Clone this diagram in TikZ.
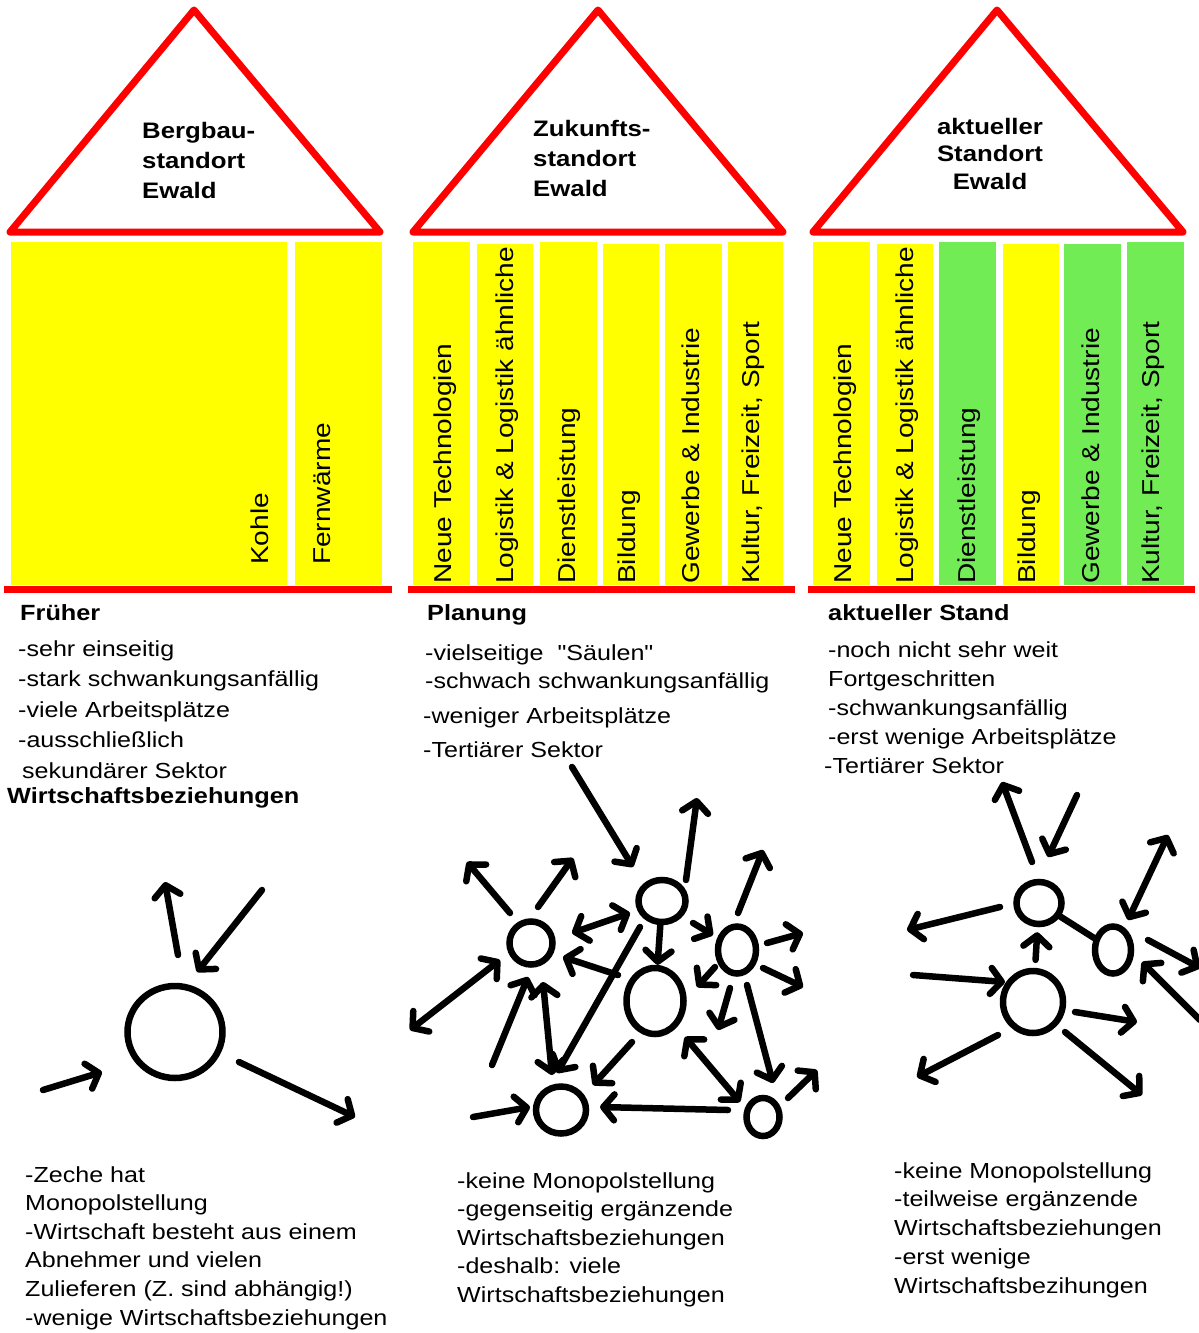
\documentclass[tikz,border=0pt]{standalone}
\usepackage{fontspec}
\setmainfont{Liberation Sans}[FakeStretch=1.15]
\newfontfamily\ewplain{Liberation Sans}[FakeStretch=1.15]
\usetikzlibrary{arrows.meta,shapes.geometric,calc}
\definecolor{ewred}{HTML}{FF0000}
\definecolor{ewyellow}{HTML}{FFFF00}
\definecolor{ewgreen}{HTML}{72EC55}
\tikzset{
  roof/.style={draw=ewred, line width=7pt, line join=round},
  floor/.style={draw=ewred, line width=7pt},
  pillar/.style={fill=ewyellow},
  gpillar/.style={fill=ewgreen},
  plabel/.style={rotate=90, anchor=west, inner sep=0pt, font=\fontsize{24.4}{28}\selectfont},
  head/.style={anchor=base west, inner sep=0pt, font=\bfseries\fontsize{22}{28}\selectfont},
  note/.style={anchor=north west, inner sep=0pt, align=left, font=\fontsize{21.8}{29}\selectfont},
  roofnote/.style={inner sep=0pt, font=\bfseries\fontsize{22.4}{30}\selectfont},
  ring/.style={ellipse, draw, line width=6.5pt, inner sep=0pt},
  link/.style={line width=6.5pt, line cap=round},
  arr/.style={-{Straight Barb[length=11pt,width=26pt,round]}, line width=6.5pt, line cap=round},
  darr/.style={{Straight Barb[length=11pt,width=26pt,round]}-{Straight Barb[length=11pt,width=26pt,round]}, line width=6.5pt, line cap=round},
}
\begin{document}
\begin{tikzpicture}[x=1pt,y=-1pt]
  \useasboundingbox (0,0) rectangle (1199,1333);
  \fill[white] (0,0) rectangle (1199,1333);

  % house 1: Bergbaustandort
  \draw[roof] (10,232) -- (194,10) -- (380,232) -- cycle;
  \node[roofnote, anchor=north west, align=left] (r1t) at (142,122) {Bergbau-\\standort\\Ewald};
  \fill[pillar] (11,242) rectangle (287,585);
  \fill[pillar] (295,242) rectangle (382,585);
  \node[plabel] (kohle) at (260,565) {Kohle};
  \node[plabel] (fern) at (322,565) {Fernwärme};
  \draw[floor] (4,589) -- (392,589);

  % house 2: Zukunftsstandort
  \draw[roof] (413,232) -- (598,10) -- (783,232) -- cycle;
  \node[roofnote, anchor=north west, align=left] (r2t) at (533,120) {Zukunfts-\\standort\\Ewald};
  \fill[pillar] (413,242) rectangle (470,585);
  \fill[pillar] (477,244) rectangle (533,585);
  \fill[pillar] (540,242) rectangle (597,585);
  \fill[pillar] (603,244) rectangle (659,585);
  \fill[pillar] (665,244) rectangle (722,585);
  \fill[pillar] (728,242) rectangle (783,585);
  \node[plabel] (p1) at (445,584) {Neue Technologien};
  \node[plabel] (p2) at (507,584) {Logistik \& Logistik ähnliche};
  \node[plabel] (p3) at (569,584) {Dienstleistung};
  \node[plabel] (p4) at (629,584) {Bildung};
  \node[plabel] (p5) at (691,584) {Gewerbe \& Industrie};
  \node[plabel] (p6) at (753,584) {Kultur, Freizeit, Sport};
  \draw[floor] (408,589) -- (795,589);

  % house 3: aktueller Standort
  \draw[roof] (813,232) -- (997,10) -- (1183,232) -- cycle;
  \node[roofnote, anchor=north, align=center, font=\bfseries\fontsize{22.4}{27.5}\selectfont] (r3t) at (990,118) {aktueller\\Standort\\Ewald};
  \fill[pillar] (813,242) rectangle (870,585);
  \fill[pillar] (877,244) rectangle (933,585);
  \fill[gpillar] (939,242) rectangle (996,585);
  \fill[pillar] (1003,244) rectangle (1059,585);
  \fill[gpillar] (1064,244) rectangle (1121,585);
  \fill[gpillar] (1127,242) rectangle (1184,585);
  \node[plabel] (q1) at (845,584) {Neue Technologien};
  \node[plabel] (q2) at (907,584) {Logistik \& Logistik ähnliche};
  \node[plabel] (q3) at (969,584) {Dienstleistung};
  \node[plabel] (q4) at (1029,584) {Bildung};
  \node[plabel] (q5) at (1091,584) {Gewerbe \& Industrie};
  \node[plabel] (q6) at (1153,584) {Kultur, Freizeit, Sport};
  \draw[floor] (808,589) -- (1195,589);

  % texts under the houses
  \node[head] (h1) at (20,620) {Früher};
  \node[note, font=\fontsize{21.8}{30.5}\selectfont] (n1) at (18,640)
    {-sehr einseitig\\-stark schwankungsanfällig\\-viele Arbeitsplätze\\-ausschließlich\\\hspace*{4pt}sekundärer Sektor};
  \node[head] (h1b) at (7,803) {Wirtschaftsbeziehungen};
  \node[head] (h2) at (427,620) {Planung};
  \node[note, font=\fontsize{21.8}{28}\selectfont] (n2) at (425,644)
    {-vielseitige~ {\ewplain "Säulen"}\\-schwach schwankungsanfällig\\[7pt]\hspace*{-2pt}-weniger Arbeitsplätze\\[6pt]\hspace*{-2pt}-Tertiärer Sektor};
  \node[head] (h3) at (828,620) {aktueller Stand};
  \node[note] (n3) at (828,641)
    {-noch nicht sehr weit\\Fortgeschritten\\-schwankungsanfällig\\-erst wenige Arbeitsplätze\\\hspace*{-4pt}-Tertiärer Sektor};

  % left network
  \node[ring, minimum width=95pt, minimum height=92pt] (L) at (175,1032) {};
  \coordinate (l1) at (165,882);
  \coordinate (l2) at (262,890);
  \coordinate (l3) at (43,1090);
  \coordinate (l4) at (355,1117);
  \draw[arr] ($(L)+(3,-77)$) -- (l1);
  \draw[arr] (l2) -- ($(L)+(22,-60)$);
  \draw[arr] (l3) -- ($(L)+(-73,40)$);
  \draw[arr] ($(L)+(64,30)$) -- (l4);

  % middle network
  \node[ring, minimum width=43pt, minimum height=43pt] (A) at (531,943) {};
  \node[ring, minimum width=47pt, minimum height=42pt] (B) at (662,901) {};
  \node[ring, minimum width=57pt, minimum height=66pt] (C) at (655,1001) {};
  \node[ring, minimum width=38pt, minimum height=47pt] (D) at (737,950) {};
  \node[ring, minimum width=50pt, minimum height=47pt] (E) at (561,1110) {};
  \node[ring, minimum width=33pt, minimum height=38pt] (F) at (763,1117) {};
  \coordinate (m1) at (572,767);
  \coordinate (m2) at (697,798);
  \coordinate (m3) at (467,862);
  \coordinate (m4) at (573,858);
  \coordinate (m5) at (492,1065);
  \coordinate (m6) at (410,1030);
  \coordinate (m7) at (763,850);
  \coordinate (m8) at (803,933);
  \coordinate (m9) at (803,987);
  \coordinate (m10) at (718,1030);
  \coordinate (m11) at (817,1070);
  \coordinate (m12) at (473,1117);
  \draw[arr] (m1) -- ($(B)+(-29,-34)$);
  \draw[arr] ($(B)+(24,-21)$) -- (m2);
  \draw[arr] ($(A)+(-21,-30)$) -- (m3);
  \draw[arr] ($(A)+(7,-36)$) -- (m4);
  \draw[darr] ($(A)+(41,-10)$) -- ($(B)+(-32,12)$);
  \draw[arr] ($(C)+(-37,-26)$) -- ($(A)+(32,14)$);
  \draw[arr] ($(B)+(-22,26)$) -- ($(E)+(-4,-37)$);
  \draw[darr] ($(A)+(12,39)$) -- ($(E)+(-9,-35)$);
  \draw[arr] (m5) -- ($(A)+(-3,34)$);
  \draw[darr] ($(A)+(-31,17)$) -- (m6);
  \draw[arr] (B) -- (C);
  \draw[arr] ($(B)+(31,22)$) -- ($(D)+(-24,-15)$);
  \draw[arr] ($(D)+(1,-37)$) -- (m7);
  \draw[arr] ($(D)+(30,-7)$) -- (m8);
  \draw[arr] ($(D)+(26,18)$) -- (m9);
  \draw[arr] ($(D)+(-22,17)$) -- ($(C)+(42,-14)$);
  \draw[arr] ($(D)+(-7,38)$) -- (m10);
  \draw[arr] ($(D)+(10,35)$) -- ($(F)+(10,-34)$);
  \draw[darr] ($(C)+(30,36)$) -- ($(F)+(-23,-15)$);
  \draw[arr] ($(F)+(25,-19)$) -- (m11);
  \draw[arr] ($(F)+(-35,-7)$) -- ($(E)+(39,-3)$);
  \draw[arr] ($(C)+(-23,41)$) -- ($(E)+(32,-25)$);
  \draw[arr] (m12) -- ($(E)+(-31,-3)$);

  % right network
  \node[ring, minimum width=45pt, minimum height=42pt] (G) at (1039,903) {};
  \node[ring, minimum width=36pt, minimum height=47pt] (H) at (1113,950) {};
  \node[ring, minimum width=60pt, minimum height=62pt] (I) at (1033,1002) {};
  \coordinate (r1) at (1002,782);
  \coordinate (r2) at (1077,795);
  \coordinate (r3) at (907,930);
  \coordinate (r4) at (1168,835);
  \coordinate (r5) at (1200,968);
  \coordinate (r6) at (1200,1020);
  \coordinate (r7) at (913,975);
  \coordinate (r8) at (1137,1022);
  \coordinate (r9) at (917,1077);
  \coordinate (r10) at (1142,1095);
  \draw[arr] ($(G)+(-7,-41)$) -- (r1);
  \draw[arr] (r2) -- ($(G)+(9,-46)$);
  \draw[arr] ($(G)+(-39,4)$) -- (r3);
  \draw[link] (G) -- (H);
  \draw[darr] ($(H)+(15,-30)$) -- (r4);
  \draw[arr] ($(H)+(35,-10)$) -- (r5);
  \draw[arr] (r6) -- ($(H)+(29,12)$);
  \draw[arr, shorten <=8pt, shorten >=5pt] (I) -- (G);
  \draw[arr] (r7) -- ($(I)+(-28,-20)$);
  \draw[arr] ($(I)+(42,10)$) -- (r8);
  \draw[arr] ($(I)+(-35,33)$) -- (r9);
  \draw[arr] ($(I)+(32,30)$) -- (r10);

  % texts under the networks
  \node[note, font=\fontsize{21.8}{28.6}\selectfont] (b1) at (25,1166)
    {-Zeche hat\\Monopolstellung\\-Wirtschaft besteht aus einem\\Abnehmer und vielen\\Zulieferen (Z. sind abhängig!)\\-wenige Wirtschaftsbeziehungen};
  \node[note, font=\fontsize{21.8}{28.5}\selectfont] (b2) at (457,1172)
    {-keine Monopolstellung\\-gegenseitig ergänzende\\Wirtschaftsbeziehungen\\-deshalb: viele\\Wirtschaftsbeziehungen};
  \node[note, font=\fontsize{21.8}{28.75}\selectfont] (b3) at (894,1162)
    {-keine Monopolstellung\\-teilweise ergänzende\\Wirtschaftsbeziehungen\\-erst wenige\\Wirtschaftsbezihungen};
\end{tikzpicture}
\end{document}
